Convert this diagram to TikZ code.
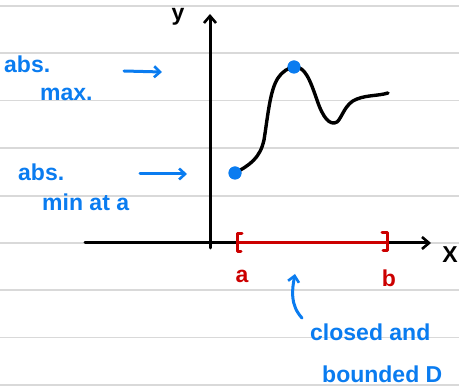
\documentclass[tikz,border=0pt]{standalone}
\usepackage{fontspec}
\setmainfont{Liberation Sans}
\usetikzlibrary{arrows.meta}
\definecolor{hblue}{RGB}{10,124,240}
\definecolor{hred}{RGB}{204,0,0}
\definecolor{rule}{RGB}{217,217,217}
\tikzset{
  ruled/.style={rule, line width=1.5pt},
  axis/.style={black, line width=3pt, line cap=round, -{Straight Barb[length=7pt,width=12pt,line width=2.6pt]}},
  hand/.style={font=\fontsize{23}{26}\selectfont\bfseries, inner sep=0pt, anchor=west},
  bluetxt/.style={hand, text=hblue},
  redtxt/.style={hand, text=hred},
  bluearrow/.style={hblue, line width=3pt, line cap=round, -{Straight Barb[length=6pt,width=11pt,line width=2.6pt]}},
  curve/.style={black, line width=3.4pt, line cap=round, line join=round},
  dot/.style={circle, fill=hblue, minimum size=13pt, inner sep=0pt},
  bracket/.style={hred, line width=3pt, line cap=round, line join=round}
}
\begin{document}
\begin{tikzpicture}[x=1pt,y=-1pt]
\useasboundingbox (0,0) rectangle (459,390);
\fill[white] (0,0) rectangle (459,390);
% ruled lines
\foreach \yy in {6,53,100.5,148,196,243,290,337.5,385}
  \draw[ruled] (0,\yy) -- (459,\yy);
% axes
\coordinate (yb) at (210,248);
\coordinate (yt) at (210,14);
\coordinate (xl) at (85,243);
\coordinate (xr) at (431,243);
\draw[axis] (yb) -- (yt);
\draw[axis] (xl) -- (xr);
\node[hand, anchor=center] (ylab) at (178,17) {y};
\node[hand, anchor=center] (xlab) at (450,255) {X};
% interval
\coordinate (ia) at (238,243);
\coordinate (ib) at (386,243);
\draw[bracket] (ia) -- (ib);
\draw[bracket] (242,234) -- (237,234) -- (237,252) -- (241,252);
\draw[bracket] (382,233) -- (387,233) -- (387,251) -- (383,251);
\node[redtxt, anchor=center] (la) at (242,276) {a};
\node[redtxt, anchor=center] (lb) at (389,278) {b};
% curve
\node[dot] (pmin) at (235,173) {};
\node[dot] (pmax) at (294,67) {};
\coordinate (pend) at (388,93);
\draw[curve] (pmin.center) .. controls (250,165) and (260,158) .. (264,140)
  .. controls (268,115) and (270,90) .. (278,78)
  .. controls (283,71) and (288,68) .. (pmax.center)
  .. controls (305,66) and (310,80) .. (317,100)
  .. controls (323,118) and (330,126) .. (337,122)
  .. controls (342,118) and (345,103) .. (357,99)
  .. controls (367,95) and (378,96) .. (pend);
\node[dot] at (pmin) {};
\node[dot] at (pmax) {};
% labels left
\node[bluetxt] (abs1) at (4,64) {abs.};
\node[bluetxt] (max) at (40,94) {max.};
\node[bluetxt] (abs2) at (18,172) {abs.};
\node[bluetxt] (min) at (42,202) {min at a};
\coordinate (a1s) at (124,71);
\coordinate (a1e) at (162,72);
\coordinate (a2s) at (140,174);
\coordinate (a2e) at (187,174);
\draw[bluearrow] (a1s) -- (a1e);
\draw[bluearrow] (a2s) -- (a2e);
% bottom label
\node[bluetxt] (closed) at (310,332) {closed and};
\node[bluetxt] (bounded) at (322,374) {bounded D};
\coordinate (cs) at (302,318);
\coordinate (ce) at (295,274);
\draw[bluearrow] (cs) .. controls (290,305) and (292,290) .. (ce);
\end{tikzpicture}
\end{document}
